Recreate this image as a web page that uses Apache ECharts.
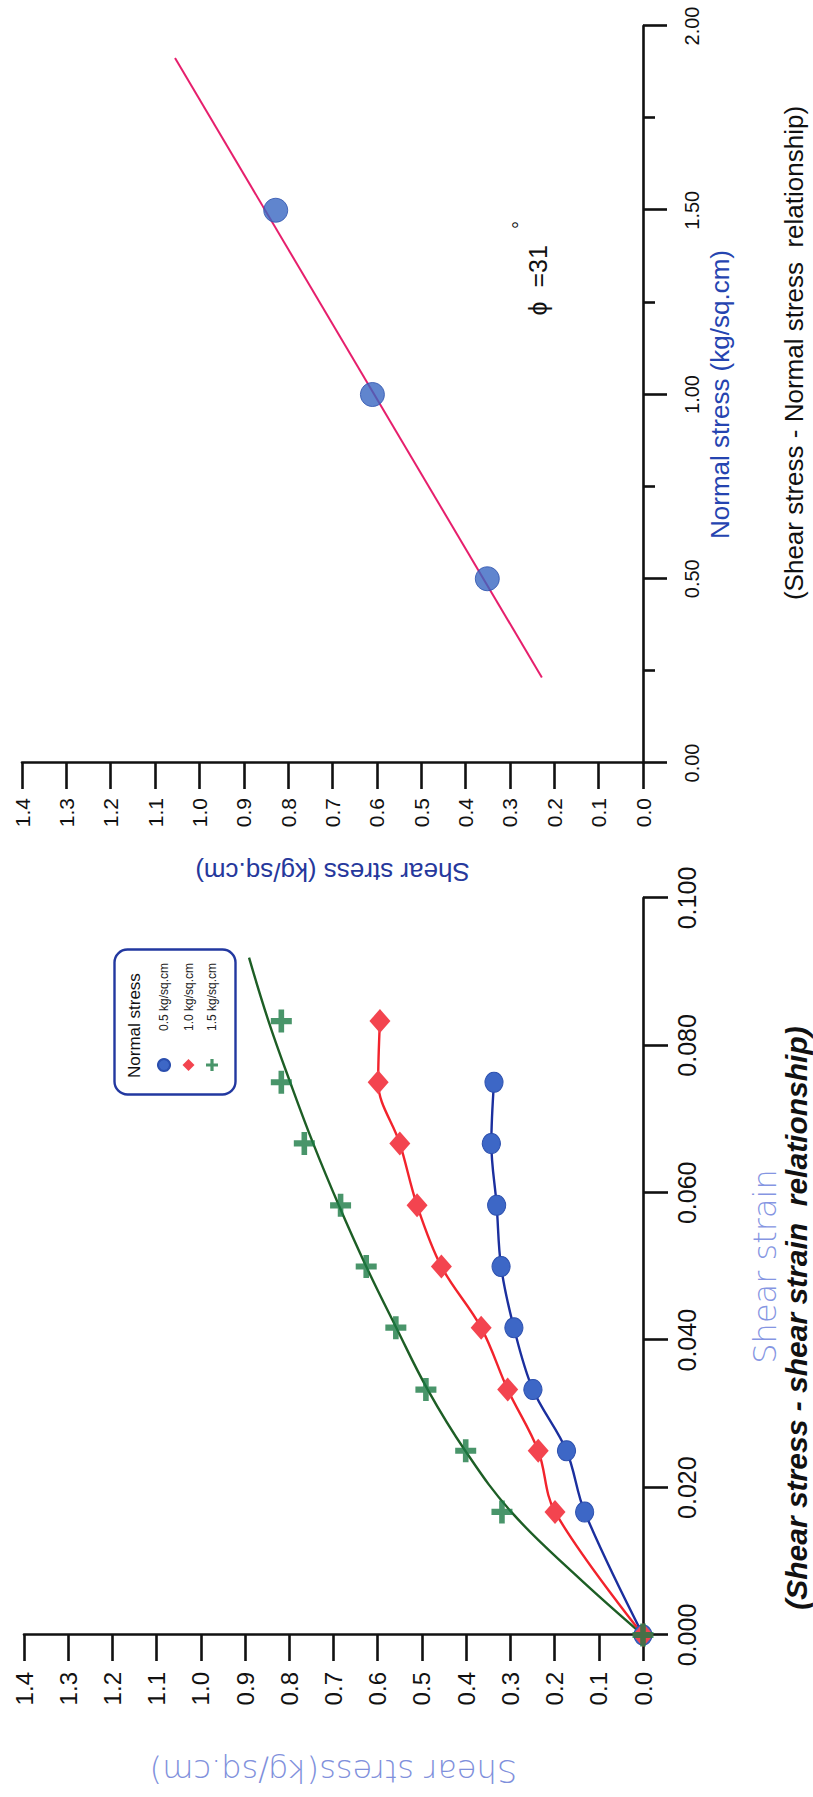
<!DOCTYPE html>
<html>
<head>
<meta charset="utf-8">
<title>Direct shear test results</title>
<script src="https://cdn.jsdelivr.net/npm/echarts@6/dist/echarts.min.js"></script>
<style>
  html, body { margin: 0; padding: 0; background: #fff; width: 813px; height: 1797px; overflow: hidden; }
  /* The figure is laid out landscape and turned a quarter turn to fit the portrait page */
  #chart {
    position: absolute; left: 0; top: 0;
    width: 1797px; height: 813px;
    transform-origin: 0 0;
    transform: translateY(1797px) rotate(-90deg);
  }
</style>
</head>
<body>
<div id="chart"></div>
<script>
// ---- Shear stress vs shear strain (kg/sq.cm) ----
const strain      = [0, 0.0167, 0.0250, 0.0333, 0.0417, 0.0500, 0.0583, 0.0667, 0.0750, 0.0833];
const stressAt05  = [0, 0.132, 0.173, 0.249, 0.292, 0.321, 0.331, 0.343, 0.337];
const stressAt10  = [0, 0.199, 0.237, 0.306, 0.366, 0.456, 0.511, 0.550, 0.599, 0.595];
const stressAt15  = [0, 0.319, 0.401, 0.491, 0.559, 0.626, 0.684, 0.766, 0.818, 0.818];

// trend curve drawn through the 1.5 kg/sq.cm readings
const trendStrain = [0, 0.0083, 0.0167, 0.0250, 0.0333, 0.0417, 0.0500, 0.0583, 0.0667, 0.0750, 0.0833, 0.0919];
const trendStress = [0, 0.155, 0.298, 0.402, 0.487, 0.558, 0.626, 0.688, 0.746, 0.798, 0.847, 0.891];

const seriesNames = ['0.5 kg/sq.cm', '1.0 kg/sq.cm', '1.5 kg/sq.cm'];

// ---- Peak shear stress vs normal stress ----
const normalStress = [0.5, 1.0, 1.5];
const peakShear    = [0.351, 0.610, 0.828];
const envelopeNormal = [0.232, 1.913];
const envelopeShear  = [0.228, 1.055];

// axis tick ranges
const strainAxis = { min: 0, max: 0.1, step: 0.02 };
const normalAxis = { min: 0, max: 2, step: 0.5 };
const stressAxis = { min: 0, max: 1.4, step: 0.1 };

const toPairs = (xs, ys) => ys.map((y, i) => [xs[i], y]);

const SANS = "'Liberation Sans', Arial, Helvetica, sans-serif";
const WIDE = "'DejaVu Sans', Verdana, sans-serif";
const INK = '#111';
const PLUS = 'path://M4.4,0 H7.6 V4.4 H12 V7.6 H7.6 V12 H4.4 V7.6 H0 V4.4 H4.4 Z';

function axisLineStyle() {
  return { show: true, onZero: false, lineStyle: { color: INK, width: 2.6 } };
}
function tickStyle(len) {
  return { show: true, inside: false, length: len, lineStyle: { color: INK, width: 2.6 } };
}

const chart = echarts.init(document.getElementById('chart'), null, { renderer: 'svg' });

chart.setOption({
  animation: false,
  backgroundColor: '#ffffff',
  grid: [
    { left: 162, top: 24, width: 737, height: 619 },
    { left: 1034, top: 22, width: 737, height: 621 }
  ],
  xAxis: [
    {
      type: 'value', gridIndex: 0,
      min: strainAxis.min, max: strainAxis.max, interval: strainAxis.step,
      axisLine: axisLineStyle(), axisTick: tickStyle(25), splitLine: { show: false },
      axisLabel: { margin: 31, fontSize: 25, color: INK, fontFamily: SANS, formatter: v => v.toFixed(3) },
      name: 'Shear strain', nameLocation: 'middle', nameGap: 106,
      nameTextStyle: { fontSize: 32, color: '#8595e2', fontFamily: WIDE, fontWeight: 200 }
    },
    {
      type: 'value', gridIndex: 1,
      min: normalAxis.min, max: normalAxis.max, interval: normalAxis.step,
      axisLine: axisLineStyle(), axisTick: tickStyle(24), splitLine: { show: false },
      minorTick: { show: true, splitNumber: 2, length: 12, lineStyle: { color: INK, width: 2.6 } },
      minorSplitLine: { show: false },
      axisLabel: { margin: 39, fontSize: 20, color: INK, fontFamily: SANS, formatter: v => v.toFixed(2) },
      name: 'Normal stress (kg/sq.cm)', nameLocation: 'middle', nameGap: 64,
      nameTextStyle: { fontSize: 26, color: '#2544b0', fontFamily: SANS }
    }
  ],
  yAxis: [
    {
      type: 'value', gridIndex: 0,
      min: stressAxis.min, max: stressAxis.max, interval: stressAxis.step,
      axisLine: axisLineStyle(), axisTick: tickStyle(26), splitLine: { show: false },
      axisLabel: { margin: 37, fontSize: 24, color: INK, fontFamily: SANS, formatter: v => v.toFixed(1) },
      name: 'Shear stress(kg/sq.cm)', nameLocation: 'middle', nameRotate: 90, nameGap: 120,
      nameTextStyle: { fontSize: 32, color: '#7f90dc', fontFamily: WIDE, fontWeight: 200 }
    },
    {
      type: 'value', gridIndex: 1,
      min: stressAxis.min, max: stressAxis.max, interval: stressAxis.step,
      axisLine: axisLineStyle(), axisTick: tickStyle(26), splitLine: { show: false },
      axisLabel: { margin: 35, fontSize: 21, color: INK, fontFamily: SANS, formatter: v => v.toFixed(1) },
      name: 'Shear stress (kg/sq.cm)', nameLocation: 'middle', nameRotate: 90, nameGap: 96,
      nameTextStyle: { fontSize: 26, color: '#26389c', fontFamily: SANS }
    }
  ],
  legend: {
    orient: 'vertical',
    left: 725, top: 157,
    padding: 0,
    itemWidth: 12, itemHeight: 12, itemGap: 11.5,
    selectedMode: false,
    textStyle: { fontSize: 12, color: '#222', fontFamily: SANS, padding: [0, 0, 0, 23] },
    data: [
      { name: seriesNames[0], icon: 'circle' },
      { name: seriesNames[1], icon: 'diamond' },
      { name: seriesNames[2], icon: PLUS }
    ]
  },
  graphic: [
    // legend frame and heading
    {
      type: 'rect', left: 700, top: 112, z: 5,
      shape: { width: 145, height: 121, r: 13 },
      style: { fill: 'none', stroke: '#2238a0', lineWidth: 2.4 }
    },
    {
      type: 'text', left: 719, top: 126, z: 5,
      style: { text: 'Normal stress', font: "17px 'Liberation Sans', Arial, sans-serif", fill: '#111' }
    },
    // captions under each plot
    {
      type: 'text', x: 479, y: 796, z: 5,
      style: {
        text: '(Shear stress - shear strain  relationship)',
        font: "italic bold 30px 'Liberation Sans', Arial, sans-serif",
        fill: '#111', align: 'center', verticalAlign: 'middle'
      }
    },
    {
      type: 'text', x: 1444, y: 794, z: 5,
      style: {
        text: '(Shear stress - Normal stress  relationship)',
        font: "26px 'Liberation Sans', Arial, sans-serif",
        fill: '#111', align: 'center', verticalAlign: 'middle'
      }
    }
  ],
  series: [
    {
      name: seriesNames[0], type: 'line', xAxisIndex: 0, yAxisIndex: 0,
      data: toPairs(strain, stressAt05), smooth: 0.35,
      symbol: 'circle', symbolSize: [20, 18], z: 4,
      lineStyle: { color: '#1b2f9e', width: 2.4 },
      itemStyle: { color: '#3d67c6', borderColor: '#2b4fae', borderWidth: 1 }
    },
    {
      name: seriesNames[1], type: 'line', xAxisIndex: 0, yAxisIndex: 0,
      data: toPairs(strain, stressAt10), smooth: 0.35,
      symbol: 'diamond', symbolSize: [24, 21], z: 4,
      lineStyle: { color: '#f2232c', width: 2.4 },
      itemStyle: { color: '#f3444f', borderColor: '#f3444f', borderWidth: 0 }
    },
    {
      name: 'trend', type: 'line', xAxisIndex: 0, yAxisIndex: 0,
      data: toPairs(trendStrain, trendStress), smooth: 0.4,
      symbol: 'none', z: 3,
      lineStyle: { color: '#1d5e25', width: 2.4 }
    },
    {
      name: seriesNames[2], type: 'scatter', xAxisIndex: 0, yAxisIndex: 0,
      data: toPairs(strain, stressAt15),
      symbol: PLUS, symbolSize: [23, 21], z: 5,
      itemStyle: { color: '#1c7a45' }
    },
    {
      name: 'envelope', type: 'line', xAxisIndex: 1, yAxisIndex: 1,
      data: toPairs(envelopeNormal, envelopeShear),
      symbol: 'none', z: 3,
      lineStyle: { color: '#e61f6c', width: 2 },
      markPoint: {
        symbol: 'circle', symbolSize: 0,
        label: { show: true, position: 'inside', color: '#111', fontFamily: SANS, formatter: '{b}' },
        data: [
          { name: 'ϕ  =31', coord: [1.31, 0.237], label: { fontSize: 25 } },
          { name: '°', coord: [1.46, 0.278], label: { fontSize: 20 } }
        ]
      }
    },
    {
      name: 'peak', type: 'scatter', xAxisIndex: 1, yAxisIndex: 1,
      data: toPairs(normalStress, peakShear),
      symbol: 'circle', symbolSize: 24, z: 4,
      itemStyle: { color: '#3866c2', borderColor: '#2a50ac', borderWidth: 1 }
    }
  ]
});
</script>
</body>
</html>
